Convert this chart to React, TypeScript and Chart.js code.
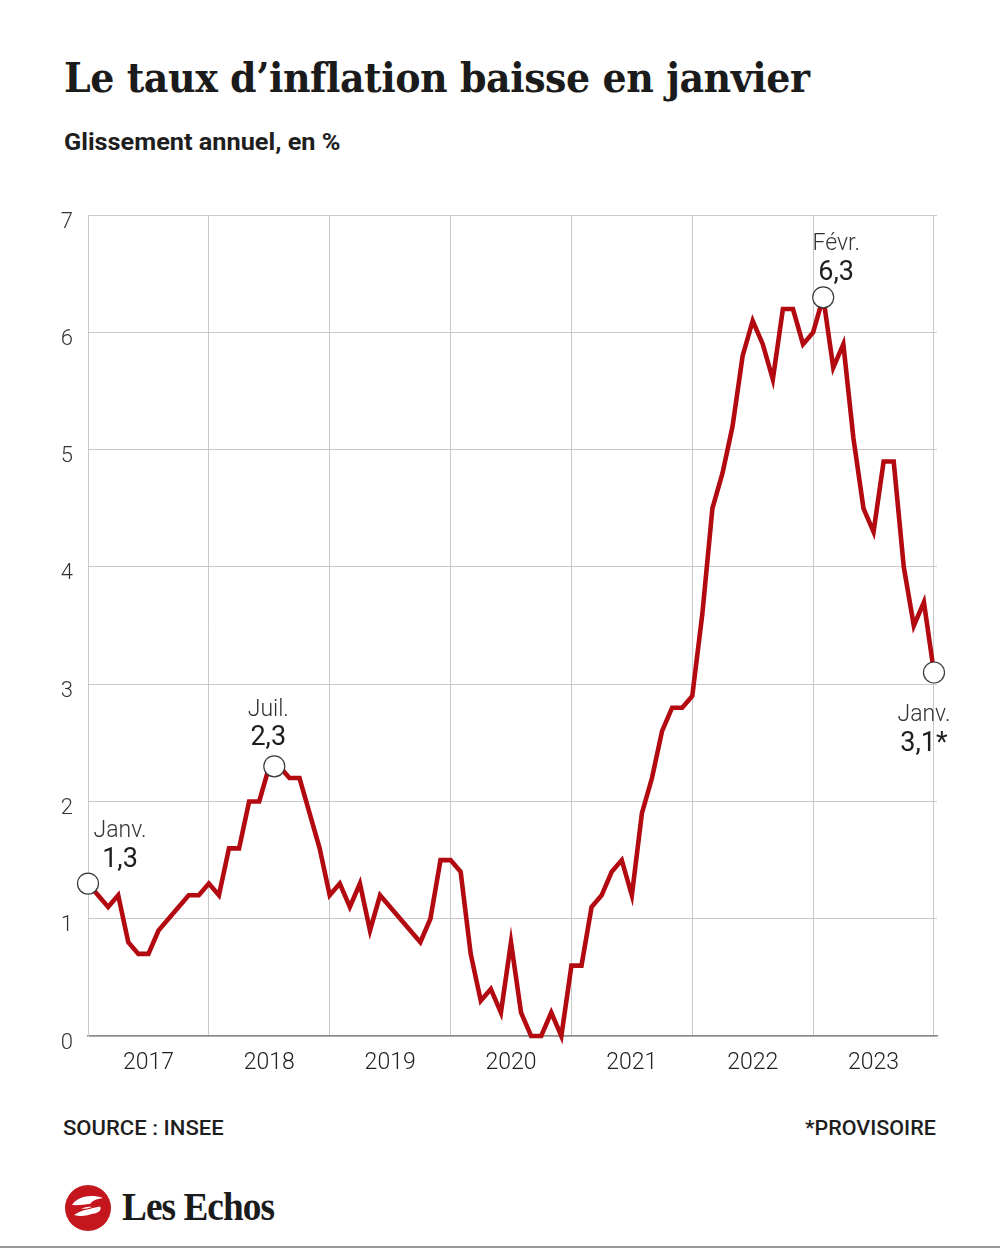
import React, { useEffect, useLayoutEffect, useRef, useState } from "react";
import { Chart, registerables } from "chart.js";

Chart.register(...registerables);

// ---- Data (INSEE, glissement annuel de l'IPC, %) ----
const START_YEAR = 2017;
const YEAR_LABELS = ["2017", "2018", "2019", "2020", "2021", "2022", "2023"];
const Y_TICKS = [0, 1, 2, 3, 4, 5, 6, 7];

const CPI_2017 = [1.3, 1.2, 1.1, 1.2, 0.8, 0.7, 0.7, 0.9, 1.0, 1.1, 1.2, 1.2];
const CPI_2018 = [1.3, 1.2, 1.6, 1.6, 2.0, 2.0, 2.3, 2.3, 2.2, 2.2, 1.9, 1.6];
const CPI_2019 = [1.2, 1.3, 1.1, 1.3, 0.9, 1.2, 1.1, 1.0, 0.9, 0.8, 1.0, 1.5];
const CPI_2020 = [1.5, 1.4, 0.7, 0.3, 0.4, 0.2, 0.8, 0.2, 0.0, 0.0, 0.2, 0.0];
const CPI_2021 = [0.6, 0.6, 1.1, 1.2, 1.4, 1.5, 1.2, 1.9, 2.2, 2.6, 2.8, 2.8];
const CPI_2022 = [2.9, 3.6, 4.5, 4.8, 5.2, 5.8, 6.1, 5.9, 5.6, 6.2, 6.2, 5.9];
const CPI_2023 = [6.0, 6.3, 5.7, 5.9, 5.1, 4.5, 4.3, 4.9, 4.9, 4.0, 3.5, 3.7];
const CPI_2024 = [3.1];

const CPI = [
  ...CPI_2017,
  ...CPI_2018,
  ...CPI_2019,
  ...CPI_2020,
  ...CPI_2021,
  ...CPI_2022,
  ...CPI_2023,
  ...CPI_2024,
];

// highlighted points: month index from Jan 2017
const HIGHLIGHT_INDEX = [0, 18, 73, 84];
const HIGHLIGHT_MONTH = ["Janv.", "Juil.", "Févr.", "Janv."];
const HIGHLIGHT_SUFFIX = ["", "", "", "*"];

// ---- styling of the highlight labels (pixel offsets) ----
const HL_STYLE = [
  { markerDx: 0, labelDx: 32, monthDy: -47, valueDy: -17 },
  { markerDx: 5, labelDx: -6, monthDy: -50, valueDy: -21 },
  { markerDx: 0, labelDx: 13, monthDy: -47, valueDy: -17 },
  { markerDx: 0, labelDx: -10, monthDy: 48, valueDy: 78 },
];

const CANVAS_TOP = 187;

const fmt = (v: number) => v.toFixed(1).replace(".", ",");

function FitText(props: { text: string; width: number; style: React.CSSProperties }) {
  const ref = useRef<HTMLSpanElement>(null);
  const [s, setS] = useState(1);
  useLayoutEffect(() => {
    if (ref.current) {
      const w = ref.current.offsetWidth;
      if (w > 0) setS(props.width / w);
    }
  }, [props.text, props.width]);
  return (
    <span
      ref={ref}
      style={{
        ...props.style,
        display: "inline-block",
        whiteSpace: "nowrap",
        transformOrigin: "left top",
        transform: `scaleX(${s})`,
      }}
    >
      {props.text}
    </span>
  );
}

const highlightPlugin = {
  id: "highlights",
  afterDatasetsDraw(chart: any) {
    const ctx = chart.ctx;
    const xs = chart.scales.x;
    const ys = chart.scales.y;
    HIGHLIGHT_INDEX.forEach((idx, i) => {
      const st = HL_STYLE[i];
      const x = xs.getPixelForValue(idx) + st.markerDx;
      const y = ys.getPixelForValue(CPI[idx]);
      ctx.save();
      ctx.beginPath();
      ctx.arc(x, y, 10.5, 0, Math.PI * 2);
      ctx.fillStyle = "#ffffff";
      ctx.fill();
      ctx.lineWidth = 1.2;
      ctx.strokeStyle = "#3a3a3a";
      ctx.stroke();
      ctx.textAlign = "center";
      ctx.textBaseline = "alphabetic";
      ctx.fillStyle = "#333333";
      ctx.font = "300 23px Roboto";
      ctx.fillText(HIGHLIGHT_MONTH[i], x + st.labelDx, y + st.monthDy);
      ctx.fillStyle = "#1e1e1e";
      ctx.font = "400 27px Roboto";
      ctx.fillText(fmt(CPI[idx]) + HIGHLIGHT_SUFFIX[i], x + st.labelDx, y + st.valueDy);
      ctx.restore();
    });
  },
};

function InflationChart() {
  const canvasRef = useRef<HTMLCanvasElement>(null);
  useEffect(() => {
    let chart: Chart | null = null;
    let cancelled = false;
    const build = () => {
      if (cancelled || !canvasRef.current) return;
      const points = CPI.map((v, i) => ({ x: i, y: v }));
      const xTicks: number[] = [];
      for (let k = 0; k <= YEAR_LABELS.length; k++) {
        xTicks.push(k * 12);
        if (k < YEAR_LABELS.length) xTicks.push(k * 12 + 6);
      }
      chart = new Chart(canvasRef.current, {
        type: "line",
        data: {
          datasets: [
            {
              data: points,
              borderColor: "#b20a10",
              borderWidth: 4.6,
              pointRadius: 0,
              tension: 0,
              fill: false,
              clip: false as any,
            },
          ],
        },
        options: {
          responsive: false,
          animation: false,
          devicePixelRatio: 1,
          layout: { padding: { top: 20, right: 63, left: 0, bottom: 0 } },
          plugins: {
            legend: { display: false },
            tooltip: { enabled: false },
          },
          scales: {
            x: {
              type: "linear",
              min: 0,
              max: 84.3,
              afterFit: (s: any) => {
                s.height = 51;
              },
              afterBuildTicks: (s: any) => {
                s.ticks = xTicks.map((v) => ({ value: v }));
              },
              grid: {
                drawTicks: false,
                color: (c: any) =>
                  c.tick && c.tick.value % 12 === 0 ? "#c9c9c9" : "rgba(0,0,0,0)",
                lineWidth: 1,
              },
              border: { display: true, color: "#8c8c8c", width: 1.5 },
              ticks: {
                autoSkip: false,
                maxRotation: 0,
                padding: 13,
                color: "#222222",
                font: { family: "Roboto", size: 23, weight: "300" as any },
                callback: (v: any) => {
                  const n = Number(v);
                  if (n % 12 === 6) return YEAR_LABELS[(n - 6) / 12];
                  return "";
                },
              },
            },
            y: {
              min: 0,
              max: 7,
              afterFit: (s: any) => {
                s.width = 88;
              },
              afterBuildTicks: (s: any) => {
                s.ticks = Y_TICKS.map((v) => ({ value: v }));
              },
              grid: { drawTicks: false, color: "#c9c9c9", lineWidth: 1 },
              border: { display: true, color: "#c9c9c9", width: 1 },
              ticks: {
                padding: 15,
                labelOffset: 7,
                color: "#333333",
                font: { family: "Roboto", size: 22, weight: "300" as any },
                callback: (v: any) => String(v),
              },
            },
          },
        },
        plugins: [highlightPlugin],
      });
    };
    const fonts: any = (document as any).fonts;
    if (fonts && fonts.load) {
      Promise.all([
        fonts.load("300 22px Roboto"),
        fonts.load("400 27px Roboto"),
      ])
        .catch(() => null)
        .then(build);
    } else {
      build();
    }
    return () => {
      cancelled = true;
      if (chart) chart.destroy();
    };
  }, []);
  return (
    <canvas
      ref={canvasRef}
      width={1000}
      height={900}
      style={{ position: "absolute", left: 0, top: CANVAS_TOP, width: 1000, height: 900 }}
    />
  );
}

export default function App() {
  return (
    <div
      style={{
        position: "absolute",
        left: 0,
        top: 0,
        width: 1000,
        height: 1250,
        background: "#ffffff",
        overflow: "hidden",
      }}
    >
      <div style={{ position: "absolute", left: 64, top: 58 }}>
        <FitText
          text="Le taux d’inflation baisse en janvier"
          width={746}
          style={{
            fontFamily: "'DejaVu Serif', serif",
            fontWeight: 700,
            fontSize: 41,
            lineHeight: "41px",
            letterSpacing: -0.5,
            color: "#1b1b1b",
          }}
        />
      </div>
      <div style={{ position: "absolute", left: 64, top: 131 }}>
        <FitText
          text="Glissement annuel, en %"
          width={277}
          style={{
            fontFamily: "Roboto, sans-serif",
            fontWeight: 700,
            fontSize: 23,
            lineHeight: "23px",
            color: "#1e1e1e",
          }}
        />
      </div>

      <InflationChart />

      <div style={{ position: "absolute", left: 63, top: 1118 }}>
        <FitText
          text="SOURCE : INSEE"
          width={161}
          style={{
            fontFamily: "Roboto, sans-serif",
            fontWeight: 500,
            fontSize: 20,
            lineHeight: "20px",
            color: "#1e1e1e",
          }}
        />
      </div>
      <div style={{ position: "absolute", left: 805, top: 1118 }}>
        <FitText
          text="*PROVISOIRE"
          width={131}
          style={{
            fontFamily: "Roboto, sans-serif",
            fontWeight: 500,
            fontSize: 20,
            lineHeight: "20px",
            color: "#1e1e1e",
          }}
        />
      </div>

      <svg
        width={46}
        height={46}
        viewBox="0 0 46 46"
        style={{ position: "absolute", left: 65, top: 1185 }}
      >
        <circle cx={23} cy={23} r={23} fill="#c4161c" />
        <path
          d="M7 20 C 13 11, 26 9, 38 13 C 31 14, 27 16, 25 19 C 20 19.5, 13 20.5, 7 20 Z"
          fill="#ffffff"
        />
        <path
          d="M9 30 C 15 25.5, 26 23.5, 35 21.5 C 37 24.5, 34 28, 29 28.5 C 23 30, 16 32.5, 9 30 Z"
          fill="#ffffff"
        />
        <path d="M16 24 C 20 22, 24 21.5, 27 22 C 24 23, 20 24, 16 24 Z" fill="#ffffff" />
      </svg>
      <div style={{ position: "absolute", left: 122, top: 1187 }}>
        <FitText
          text="Les Echos"
          width={152}
          style={{
            fontFamily: "'Liberation Serif', serif",
            fontWeight: 700,
            fontSize: 39,
            lineHeight: "39px",
            letterSpacing: -1,
            color: "#1b1b1b",
          }}
        />
      </div>

      <div
        style={{
          position: "absolute",
          left: 0,
          top: 1246,
          width: 1000,
          height: 2,
          background: "#9a9a9a",
        }}
      />
    </div>
  );
}
